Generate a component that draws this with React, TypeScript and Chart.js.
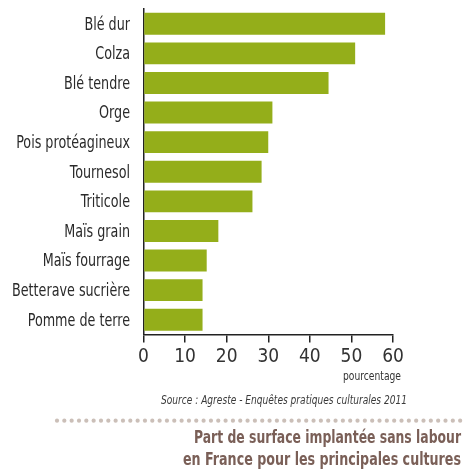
import React, { useEffect, useRef } from "react";
import { Chart, registerables } from "chart.js";

Chart.register(...registerables);

const categories = [
  "Blé dur",
  "Colza",
  "Blé tendre",
  "Orge",
  "Pois protéagineux",
  "Tournesol",
  "Triticole",
  "Maïs grain",
  "Maïs fourrage",
  "Betterave sucrière",
  "Pomme de terre",
];
const values = [58.1, 50.9, 44.5, 31, 30, 28.4, 26.2, 18, 15.2, 14.2, 14.2];
const xTicks = [0, 10, 20, 30, 40, 50, 60];
const unitLabel = "pourcentage";
const sourceText = "Source : Agreste - Enquêtes pratiques culturales 2011";
const titleLines = [
  "Part de surface implantée sans labour",
  "en France pour les principales cultures",
];

const FONT = '"DejaVu Sans Condensed", "Liberation Sans Narrow", "Arial Narrow", sans-serif';

const W = 463;
const H = 473;

// y labels drawn from the library's y scale, horizontally condensed
const yLabelsPlugin = {
  id: "yLabels",
  afterDraw(chart: any) {
    const ctx = chart.ctx as CanvasRenderingContext2D;
    const scale = chart.scales.y;
    const labels = chart.data.labels as string[];
    ctx.save();
    ctx.font = `18.5px ${FONT}`;
    ctx.fillStyle = "#2a2a2a";
    ctx.textAlign = "right";
    ctx.textBaseline = "middle";
    let maxW = 0;
    labels.forEach((l) => (maxW = Math.max(maxW, ctx.measureText(l).width)));
    const sx = 118 / maxW;
    const right = scale.right - 13.5;
    labels.forEach((l, i) => {
      const y = scale.getPixelForTick(i) + 1;
      ctx.save();
      ctx.translate(right, y);
      ctx.scale(sx, 1);
      ctx.fillText(l, 0, 0);
      ctx.restore();
    });
    ctx.restore();
  },
};

const extrasPlugin = {
  id: "extras",
  afterDraw(chart: any) {
    const ctx = chart.ctx as CanvasRenderingContext2D;
    ctx.save();
    ctx.fillStyle = "#333333";
    ctx.font = `13px ${FONT}`;
    ctx.textAlign = "right";
    ctx.textBaseline = "middle";
    ctx.fillText(unitLabel, 401, 377, 58);
    ctx.font = `italic 13px ${FONT}`;
    ctx.textAlign = "center";
    ctx.fillStyle = "#3a3a3a";
    ctx.fillText(sourceText, 284, 401, 246);
    ctx.fillStyle = "#cbbfb8";
    for (let x = 57; x < W + 2; x += 7.33) {
      ctx.beginPath();
      ctx.arc(x, 420.7, 2.1, 0, Math.PI * 2);
      ctx.fill();
    }
    ctx.fillStyle = "#7a5f57";
    ctx.font = `bold 18px ${FONT}`;
    ctx.textAlign = "right";
    ctx.fillText(titleLines[0], 461, 438, 267);
    ctx.fillText(titleLines[1], 461, 460, 278);
    ctx.restore();
  },
};

export default function App() {
  const ref = useRef<HTMLCanvasElement>(null);
  useEffect(() => {
    if (!ref.current) return;
    const chart = new Chart(ref.current, {
      type: "bar",
      data: {
        labels: categories,
        datasets: [
          {
            data: values,
            backgroundColor: "#94ae1a",
            borderWidth: 0,
            categoryPercentage: 1,
            barPercentage: 0.74,
          },
        ],
      },
      options: {
        indexAxis: "y",
        responsive: false,
        animation: false,
        devicePixelRatio: 1,
        layout: { padding: { top: 9, right: 70, left: 0, bottom: 0 } },
        plugins: {
          legend: { display: false },
          tooltip: { enabled: false },
        },
        scales: {
          x: {
            min: 0,
            max: 60,
            afterBuildTicks: (scale: any) => {
              scale.ticks = xTicks.map((v) => ({ value: v }));
            },
            afterFit: (scale: any) => {
              scale.height = H - 334.5;
            },
            grid: {
              display: true,
              drawOnChartArea: false,
              drawTicks: true,
              tickLength: 8,
              color: "#222222",
              lineWidth: 1.5,
            },
            border: { display: true, color: "#222222", width: 1.5 },
            ticks: {
              color: "#333333",
              padding: 3,
              font: { family: FONT, size: 19 },
              maxRotation: 0,
            },
          },
          y: {
            afterFit: (scale: any) => {
              scale.width = 143.5;
            },
            grid: { display: false, drawTicks: false },
            border: { display: true, color: "#222222", width: 1.5 },
            ticks: { display: false },
          },
        },
      },
      plugins: [yLabelsPlugin, extrasPlugin],
    });
    return () => chart.destroy();
  }, []);
  return (
    <div style={{ position: "absolute", left: 0, top: 0, width: W, height: H, background: "#ffffff" }}>
      <canvas ref={ref} width={W} height={H} style={{ display: "block", width: W, height: H }} />
    </div>
  );
}
